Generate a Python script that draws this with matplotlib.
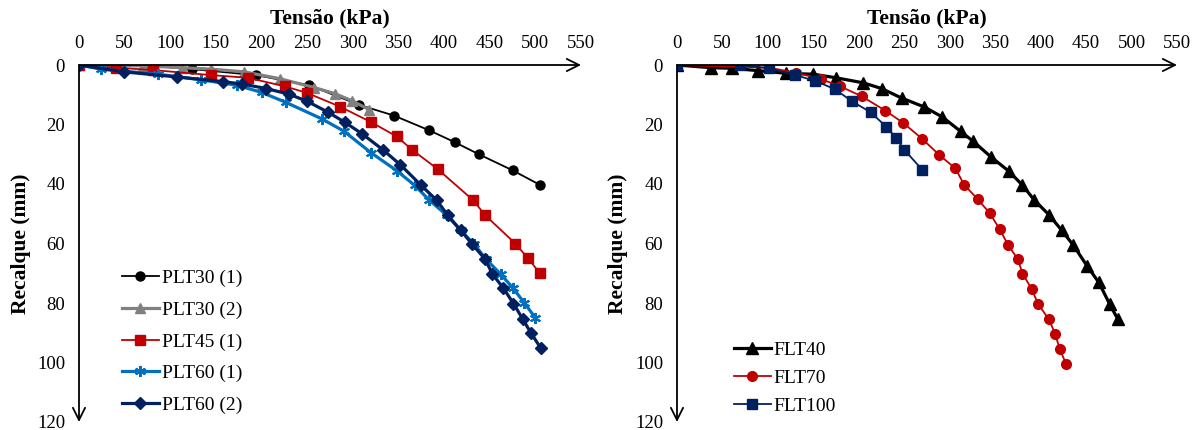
import matplotlib.pyplot as plt

plt.rcParams["font.family"] = ["Liberation Serif", "DejaVu Serif"]

# Left panel: plate load tests (PLT)
plt30_1_x = [0, 73, 124, 194, 252, 307, 345, 384, 412, 438, 475, 505]
plt30_1_y = [0, 0.1, 1.4, 3.4, 6.8, 13.4, 17, 22, 26, 30, 35.4, 40.3]

plt30_2_x = [0, 70, 113, 145, 181, 220, 258, 280, 299, 318]
plt30_2_y = [0, 0.3, 0.9, 1.4, 2.3, 4.6, 7.6, 9.6, 12, 15]

plt45_1_x = [0, 41, 81, 145, 185, 226, 250, 286, 320, 348, 365, 393, 432, 445, 478, 492, 505]
plt45_1_y = [0, 0.9, 1.7, 3.4, 4.3, 7.2, 9.4, 14, 19.2, 24, 28.5, 35, 45.5, 50.5, 60, 65, 70]

plt60_1_x = [0, 24.5, 87, 134, 173, 200, 227, 266, 290, 320, 348, 368, 384, 403, 418,
             433, 446, 462, 475, 488, 500]
plt60_1_y = [0, 1.4, 3.1, 5, 6.8, 9.2, 12.6, 18.1, 22.2, 29.5, 35.5, 40.5, 45.5, 50.5, 55.5,
             60.3, 65.3, 70.3, 74.8, 80, 85]

plt60_2_x = [0, 49, 107, 158, 179, 205, 230, 250, 273, 291, 310, 333, 352, 375, 392, 404,
             418, 431, 445, 453, 465, 476, 486, 495, 506]
plt60_2_y = [0, 2.3, 4, 5.6, 6.4, 7.9, 9.8, 12.2, 15.9, 19.2, 23.1, 28.5, 33.5, 40.5, 45.5, 50.5,
             55.5, 60.3, 65.3, 70.3, 75, 80.2, 85.3, 90, 95.2]

# Right panel: footing load tests (FLT)
flt40_x = [0, 37, 60, 89, 120, 150, 175, 205, 225, 247, 272, 292, 312, 326, 345, 365,
           380, 393, 409, 423, 436, 451, 464, 476, 485]
flt40_y = [0, 0.9, 1.1, 1.9, 2.8, 3.1, 4.3, 6, 7.9, 11.1, 14.1, 17.5, 22.3, 25.7, 30.8, 35.7,
           40.4, 45.4, 50.3, 55.5, 60.6, 67.5, 73.1, 80.4, 85.5]

flt70_x = [0, 101, 131, 158, 179, 203, 229, 249, 270, 288, 306, 316, 331, 344, 355, 364,
           375, 380, 390, 397, 409, 416, 421, 428]
flt70_y = [0, 0.9, 2.6, 4.7, 7.1, 10.5, 15.3, 19.5, 24.9, 30.1, 34.7, 40.3, 45.2, 49.8, 55.2, 60.4,
           65.3, 70.1, 75.2, 80.2, 85.5, 90.3, 95.6, 100.4]

flt100_x = [0, 69, 101, 130, 152, 174, 192, 213, 230, 241, 250, 270]
flt100_y = [0, 0, 1.1, 3.4, 5.3, 8.2, 12.1, 15.9, 20.7, 24.5, 28.5, 35.3]

x_ticks = list(range(0, 551, 50))
y_ticks = list(range(0, 121, 20))

W, H = 1203, 430
fig = plt.figure(figsize=(W / 100, H / 100), dpi=100)


def make_axes(x0, x1, ylab_x):
    # pixel extents of the data area (0..550 kPa, 0..120 mm)
    ax = fig.add_axes([x0 / W, (H - 422) / H, (x1 - x0) / W, (422 - 65) / H])
    ax.set_xlim(0, 550)
    ax.set_ylim(120, 0)
    for s in ax.spines.values():
        s.set_visible(False)
    ax.xaxis.tick_top()
    ax.set_xticks(x_ticks)
    ax.set_yticks(y_ticks)
    ax.tick_params(length=0, labelsize=13.5)
    ax.tick_params(axis="x", pad=9.5)
    ax.tick_params(axis="y", pad=10)
    fig.text((x0 + x1) / 2 / W, 1 - 18 / H, "Tensão (kPa)", fontsize=15.5,
             fontweight="bold", ha="center", va="center")
    fig.text(ylab_x / W, 1 - 244 / H, "Recalque (mm)", fontsize=15.5, fontweight="bold",
             rotation=90, ha="center", va="center")
    arrow = dict(arrowstyle="->", color="black", lw=1.3, mutation_scale=22,
                 shrinkA=0, shrinkB=0)
    ax.annotate("", xy=(550, 0), xytext=(0, 0), arrowprops=arrow, annotation_clip=False)
    ax.annotate("", xy=(0, 120), xytext=(0, 0), arrowprops=arrow, annotation_clip=False)
    return ax


ax1 = make_axes(79, 581, 21)
ax1.plot(plt30_1_x, plt30_1_y, color="black", lw=1.3, marker="o", ms=6.5, label="PLT30 (1)")
ax1.plot(plt30_2_x, plt30_2_y, color="#808080", lw=2.3, marker="^", ms=7.5, label="PLT30 (2)")
ax1.plot(plt45_1_x, plt45_1_y, color="#C00000", lw=1.3, marker="s", ms=6.5, label="PLT45 (1)")
ax1.plot(plt60_1_x, plt60_1_y, color="#0070C0", lw=2.3, marker=(6, 2, 0), ms=8,
         mew=1.5, label="PLT60 (1)")
ax1.plot(plt60_2_x, plt60_2_y, color="#002060", lw=2.3, marker="D", ms=6, label="PLT60 (2)")
ax1.legend(loc="lower left", bbox_to_anchor=(122 / W, (H - 414) / H),
           bbox_transform=fig.transFigure, frameon=False, fontsize=14,
           handlelength=1.9, handletextpad=0.15, labelspacing=0.72,
           borderpad=0, borderaxespad=0)

ax2 = make_axes(677, 1177, 618)
ax2.plot(flt40_x, flt40_y, color="black", lw=2.3, marker="^", ms=8, label="FLT40")
ax2.plot(flt70_x, flt70_y, color="#C00000", lw=1.3, marker="o", ms=7, label="FLT70")
ax2.plot(flt100_x, flt100_y, color="#002060", lw=1.3, marker="s", ms=6.5, label="FLT100")
ax2.legend(loc="lower left", bbox_to_anchor=(734 / W, (H - 415) / H),
           bbox_transform=fig.transFigure, frameon=False, fontsize=14,
           handlelength=1.9, handletextpad=0.15, labelspacing=0.53,
           borderpad=0, borderaxespad=0)

fig.savefig("out.png", dpi=100)
